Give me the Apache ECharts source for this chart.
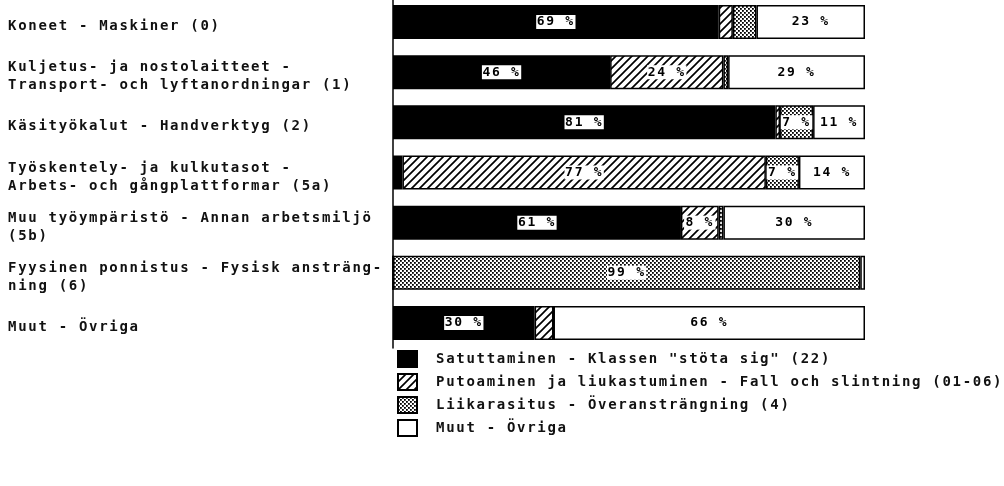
<!DOCTYPE html>
<html>
<head>
<meta charset="utf-8">
<script src="https://cdn.jsdelivr.net/npm/echarts@6/dist/echarts.min.js"></script>
<style>
html,body{margin:0;padding:0;background:#fff;}
#chart{width:1004px;height:486px;}
</style>
</head>
<body>
<div id="chart"></div>
<script>
const categories = [
  "Koneet - Maskiner (0)",
  "Kuljetus- ja nostolaitteet -\nTransport- och lyftanordningar (1)",
  "Käsityökalut - Handverktyg (2)",
  "Työskentely- ja kulkutasot -\nArbets- och gångplattformar (5a)",
  "Muu työympäristö - Annan arbetsmiljö\n(5b)",
  "Fyysinen ponnistus - Fysisk ansträng-\nning (6)",
  "Muut - Övriga"
];
const seriesNames = [
  'Satuttaminen - Klassen "stöta sig" (22)',
  "Putoaminen ja liukastuminen - Fall och slintning (01-06)",
  "Liikarasitus - Överansträngning (4)",
  "Muut - Övriga"
];
const satuttaminen = [69, 46, 81, 2, 61, 0, 30];
const putoaminen   = [3, 24, 1, 77, 8, 0, 4];
const liikarasitus = [5, 1, 7, 7, 1, 99, 0];
const muut         = [23, 29, 11, 14, 30, 1, 66];

// typewriter-like letter spacing for all drawn text
const LETTER_SPACING = '1.7px';
const _fillText = CanvasRenderingContext2D.prototype.fillText;
CanvasRenderingContext2D.prototype.fillText = function () {
  if ('letterSpacing' in this) this.letterSpacing = LETTER_SPACING;
  return _fillText.apply(this, arguments);
};

function hatchPattern() {
  const c = document.createElement('canvas');
  c.width = 8; c.height = 8;
  const g = c.getContext('2d');
  g.fillStyle = '#fff'; g.fillRect(0, 0, 8, 8);
  g.strokeStyle = '#000'; g.lineWidth = 1.7;
  g.beginPath();
  g.moveTo(-1, 9); g.lineTo(9, -1);
  g.moveTo(-1, 1); g.lineTo(1, -1);
  g.moveTo(7, 9); g.lineTo(9, 7);
  g.stroke();
  return c;
}
function dotPattern() {
  const c = document.createElement('canvas');
  c.width = 4; c.height = 4;
  const g = c.getContext('2d');
  g.fillStyle = '#fff'; g.fillRect(0, 0, 4, 4);
  g.fillStyle = '#000';
  g.fillRect(0, 0, 1.8, 1.8);
  g.fillRect(2, 2, 1.8, 1.8);
  return c;
}

const FONT = '"DejaVu Sans Mono", monospace';
const fills = [
  '#000',
  { image: hatchPattern(), repeat: 'repeat' },
  { image: dotPattern(), repeat: 'repeat' },
  '#fff'
];
const values = [satuttaminen, putoaminen, liikarasitus, muut];

const series = values.map((arr, i) => ({
  name: seriesNames[i],
  type: 'bar',
  stack: 'total',
  barWidth: 34,
  itemStyle: { color: fills[i], borderColor: '#000', borderWidth: 1.5 },
  label: {
    position: 'inside',
    formatter: p => p.value + ' %',
    color: '#000',
    fontFamily: FONT,
    fontSize: 13,
    fontWeight: 'bold',
    backgroundColor: '#fff',
    padding: [1, 4, 0, 4]
  },
  emphasis: { disabled: true },
  data: arr.map(v => ({ value: v, label: { show: v >= 7 } }))
}));

const chart = echarts.init(document.getElementById('chart'), null, { renderer: 'canvas' });
chart.setOption({
  animation: false,
  backgroundColor: '#fff',
  grid: { left: 393, right: 139, top: -3, height: 351, outerBoundsMode: 'none', containLabel: false },
  xAxis: { type: 'value', min: 0, max: 100, show: false },
  yAxis: {
    type: 'category',
    inverse: true,
    data: categories,
    axisLine: { show: true, lineStyle: { color: '#000', width: 1.5 } },
    axisTick: { show: false },
    axisLabel: {
      align: 'left',
      margin: 385,
      fontFamily: FONT,
      fontSize: 14,
      fontWeight: 'bold',
      color: '#111',
      lineHeight: 18,
      formatter: v => '{s| }\n' + v.split('\n').map(l => '{t|' + l + '}').join('\n'),
      rich: {
        s: { fontSize: 2, lineHeight: 9 },
        t: { fontFamily: FONT, fontSize: 14, fontWeight: 'bold', color: '#111', lineHeight: 18 }
      }
    }
  },
  legend: {
    orient: 'vertical',
    left: 397,
    top: 350,
    padding: 0,
    itemWidth: 19,
    itemHeight: 16,
    itemGap: 5,
    icon: 'rect',
    selectedMode: false,
    textStyle: {
      fontFamily: FONT,
      fontSize: 14,
      fontWeight: 'bold',
      color: '#111',
      lineHeight: 16,
      padding: [0, 0, 0, 14]
    },
    data: seriesNames
  },
  series: series
});
</script>
</body>
</html>
